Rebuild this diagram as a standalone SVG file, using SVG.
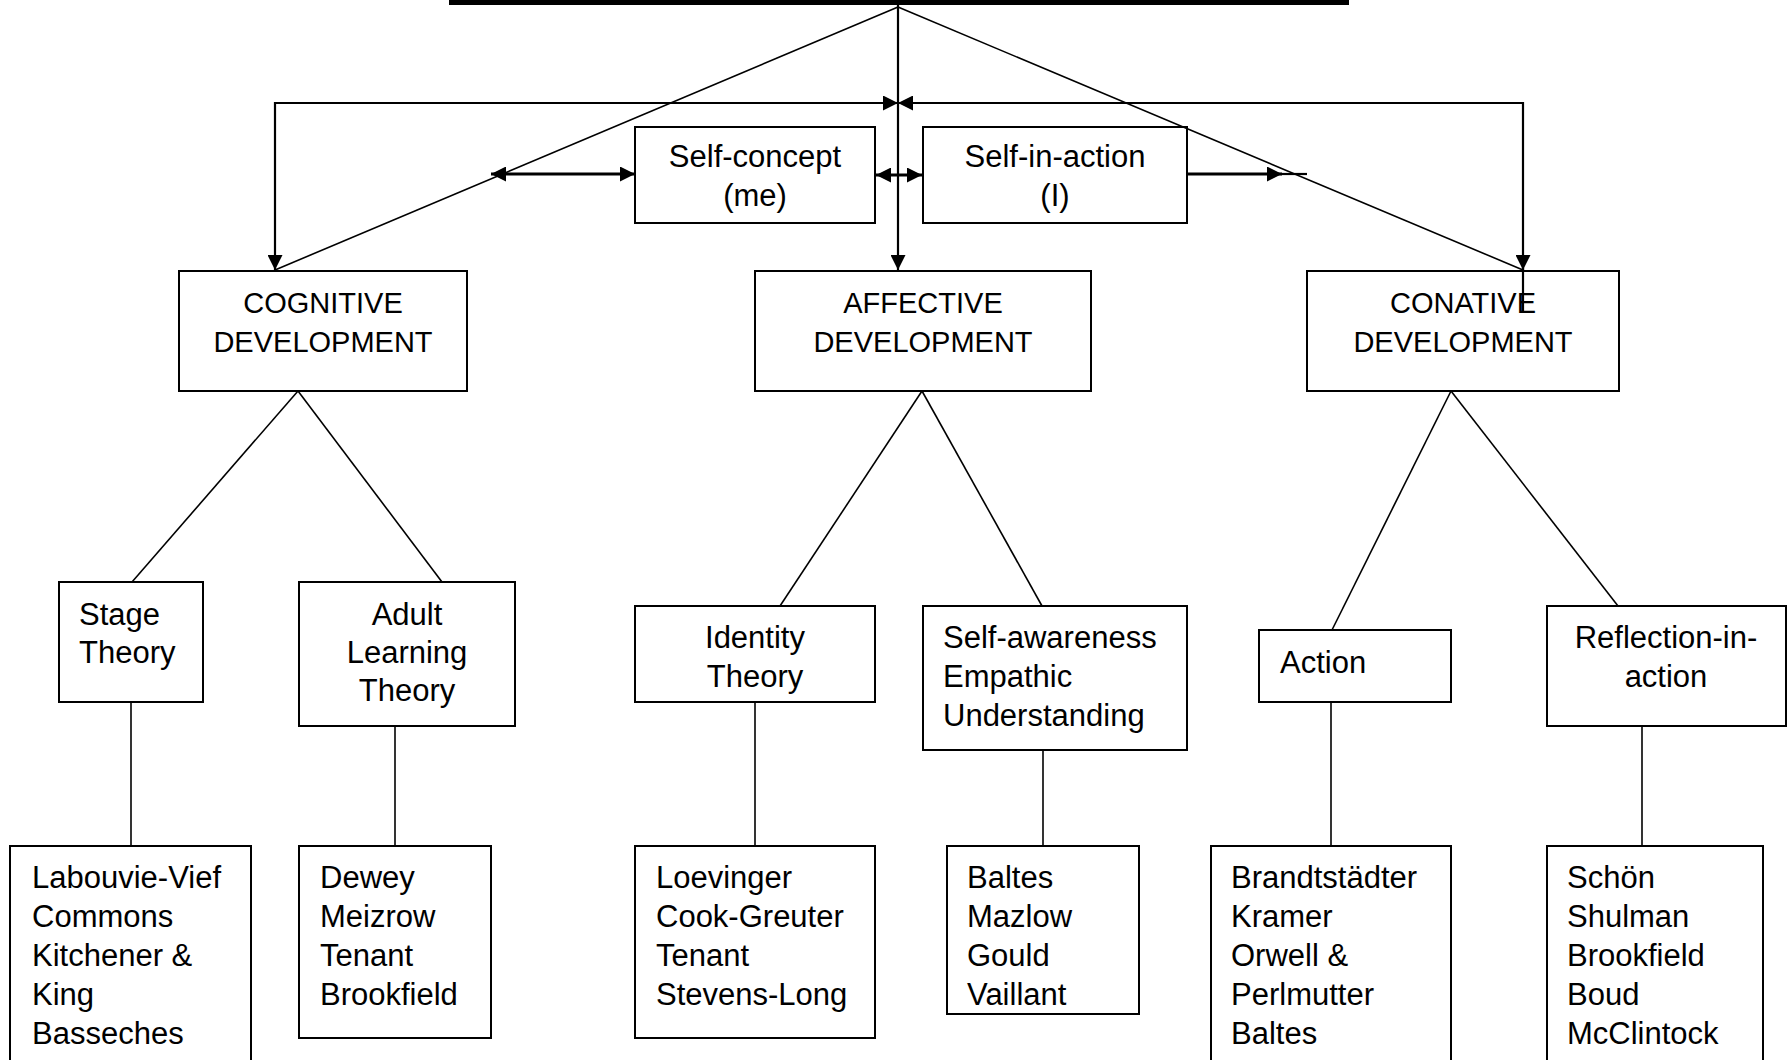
<svg xmlns="http://www.w3.org/2000/svg" width="1787" height="1060" viewBox="0 0 1787 1060">
  <style>
    .box { fill: #ffffff; stroke: #000000; stroke-width: 2; }
    .t { font-family: "Liberation Sans", Arial, sans-serif; font-size: 31px; fill: #000000; }
    .caps { font-family: "Liberation Sans", Arial, sans-serif; font-size: 29px; fill: #000000; text-anchor: middle; }
    .mid { text-anchor: middle; }
    .ln { stroke: #000000; stroke-width: 1.6; fill: none; }
    .arw { stroke: #000000; stroke-width: 2.2; fill: none; }
    .thick { stroke: #000000; stroke-width: 2.8; fill: none; }
  </style>
  <defs>
    <marker id="ah" viewBox="0 0 15 15" refX="15" refY="7.5" markerWidth="15" markerHeight="15" markerUnits="userSpaceOnUse" orient="auto-start-reverse">
      <path d="M0,0 L15,7.5 L0,15 z" fill="#000000"/>
    </marker>
  </defs>
  <rect x="0" y="0" width="1787" height="1060" fill="#ffffff"/>

  <!-- title bar -->
  <g id="title-bar">
    <rect x="449" y="0" width="900" height="5" fill="#000000"/>
  </g>

  <!-- nodes -->
  <g id="self-concept">
    <rect class="box" x="635" y="127" width="240" height="96"/>
    <text class="t mid" x="755" y="167">Self-concept</text>
    <text class="t mid" x="755" y="206">(me)</text>
  </g>
  <g id="self-in-action">
    <rect class="box" x="923" y="127" width="264" height="96"/>
    <text class="t mid" x="1055" y="167">Self-in-action</text>
    <text class="t mid" x="1055" y="206">(I)</text>
  </g>

  <g id="cognitive">
    <rect class="box" x="179" y="271" width="288" height="120"/>
    <text class="caps" x="323" y="313">COGNITIVE</text>
    <text class="caps" x="323" y="352">DEVELOPMENT</text>
  </g>
  <g id="affective">
    <rect class="box" x="755" y="271" width="336" height="120"/>
    <text class="caps" x="923" y="313">AFFECTIVE</text>
    <text class="caps" x="923" y="352">DEVELOPMENT</text>
  </g>
  <g id="conative">
    <rect class="box" x="1307" y="271" width="312" height="120"/>
    <text class="caps" x="1463" y="313">CONATIVE</text>
    <text class="caps" x="1463" y="352">DEVELOPMENT</text>
  </g>

  <g id="stage-theory">
    <rect class="box" x="59" y="582" width="144" height="120"/>
    <text class="t" x="79" y="625">Stage</text>
    <text class="t" x="79" y="663">Theory</text>
  </g>
  <g id="adult-learning-theory">
    <rect class="box" x="299" y="582" width="216" height="144"/>
    <text class="t mid" x="407" y="625">Adult</text>
    <text class="t mid" x="407" y="663">Learning</text>
    <text class="t mid" x="407" y="701">Theory</text>
  </g>
  <g id="identity-theory">
    <rect class="box" x="635" y="606" width="240" height="96"/>
    <text class="t mid" x="755" y="648">Identity</text>
    <text class="t mid" x="755" y="687">Theory</text>
  </g>
  <g id="self-awareness">
    <rect class="box" x="923" y="606" width="264" height="144"/>
    <text class="t" x="943" y="648">Self-awareness</text>
    <text class="t" x="943" y="687">Empathic</text>
    <text class="t" x="943" y="726">Understanding</text>
  </g>
  <g id="action">
    <rect class="box" x="1259" y="630" width="192" height="72"/>
    <text class="t" x="1280" y="673">Action</text>
  </g>
  <g id="reflection-in-action">
    <rect class="box" x="1547" y="606" width="239" height="120"/>
    <text class="t mid" x="1666" y="648">Reflection-in-</text>
    <text class="t mid" x="1666" y="687">action</text>
  </g>

  <g id="stage-authors">
    <rect class="box" x="10" y="846" width="241" height="230"/>
    <text class="t" x="32" y="888">Labouvie-Vief</text>
    <text class="t" x="32" y="927">Commons</text>
    <text class="t" x="32" y="966">Kitchener &amp;</text>
    <text class="t" x="32" y="1005">King</text>
    <text class="t" x="32" y="1044">Basseches</text>
  </g>
  <g id="adult-authors">
    <rect class="box" x="299" y="846" width="192" height="192"/>
    <text class="t" x="320" y="888">Dewey</text>
    <text class="t" x="320" y="927">Meizrow</text>
    <text class="t" x="320" y="966">Tenant</text>
    <text class="t" x="320" y="1005">Brookfield</text>
  </g>
  <g id="identity-authors">
    <rect class="box" x="635" y="846" width="240" height="192"/>
    <text class="t" x="656" y="888">Loevinger</text>
    <text class="t" x="656" y="927">Cook-Greuter</text>
    <text class="t" x="656" y="966">Tenant</text>
    <text class="t" x="656" y="1005">Stevens-Long</text>
  </g>
  <g id="awareness-authors">
    <rect class="box" x="947" y="846" width="192" height="168"/>
    <text class="t" x="967" y="888">Baltes</text>
    <text class="t" x="967" y="927">Mazlow</text>
    <text class="t" x="967" y="966">Gould</text>
    <text class="t" x="967" y="1005">Vaillant</text>
  </g>
  <g id="action-authors">
    <rect class="box" x="1211" y="846" width="240" height="230"/>
    <text class="t" x="1231" y="888">Brandtstädter</text>
    <text class="t" x="1231" y="927">Kramer</text>
    <text class="t" x="1231" y="966">Orwell &amp;</text>
    <text class="t" x="1231" y="1005">Perlmutter</text>
    <text class="t" x="1231" y="1044">Baltes</text>
  </g>
  <g id="reflection-authors">
    <rect class="box" x="1547" y="846" width="216" height="230"/>
    <text class="t" x="1567" y="888">Schön</text>
    <text class="t" x="1567" y="927">Shulman</text>
    <text class="t" x="1567" y="966">Brookfield</text>
    <text class="t" x="1567" y="1005">Boud</text>
    <text class="t" x="1567" y="1044">McClintock</text>
  </g>

  <!-- connectors -->
  <g id="connectors">
    <line class="ln" x1="898" y1="7" x2="275" y2="270"/>
    <line class="ln" x1="898" y1="7" x2="1523" y2="270"/>
    <line class="arw" x1="898" y1="5" x2="898" y2="270" marker-end="url(#ah)"/>
    <polyline class="arw" points="898,103 275,103 275,270" marker-start="url(#ah)" marker-end="url(#ah)"/>
    <polyline class="arw" points="898,103 1523,103 1523,270" marker-start="url(#ah)" marker-end="url(#ah)"/>
    <line class="arw" x1="1523" y1="268" x2="1523" y2="312"/>
    <line class="thick" x1="491" y1="174" x2="635" y2="174" marker-start="url(#ah)" marker-end="url(#ah)"/>
    <line class="thick" x1="876" y1="175" x2="922" y2="175" marker-start="url(#ah)" marker-end="url(#ah)"/>
    <line class="thick" x1="1187" y1="174" x2="1282" y2="174" marker-end="url(#ah)"/>
    <line class="arw" x1="1280" y1="174" x2="1307" y2="174"/>

    <line class="ln" x1="298" y1="391" x2="132" y2="582"/>
    <line class="ln" x1="298" y1="391" x2="442" y2="582"/>
    <line class="ln" x1="922" y1="391" x2="780" y2="606"/>
    <line class="ln" x1="922" y1="391" x2="1042" y2="606"/>
    <line class="ln" x1="1451" y1="391" x2="1332" y2="630"/>
    <line class="ln" x1="1451" y1="391" x2="1618" y2="606"/>

    <line class="ln" x1="131" y1="702" x2="131" y2="846"/>
    <line class="ln" x1="395" y1="726" x2="395" y2="846"/>
    <line class="ln" x1="755" y1="702" x2="755" y2="846"/>
    <line class="ln" x1="1043" y1="750" x2="1043" y2="846"/>
    <line class="ln" x1="1331" y1="702" x2="1331" y2="846"/>
    <line class="ln" x1="1642" y1="726" x2="1642" y2="846"/>
  </g>
</svg>
